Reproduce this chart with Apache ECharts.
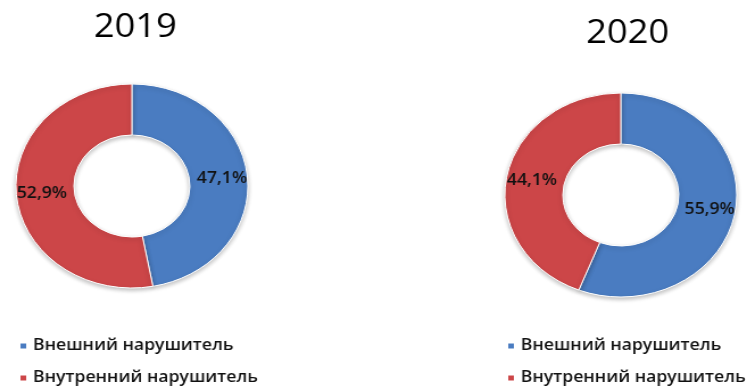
<!DOCTYPE html>
<html>
<head>
<meta charset="utf-8">
<script src="https://cdn.jsdelivr.net/npm/echarts@6/dist/echarts.min.js"></script>
<style>
  html, body { margin: 0; padding: 0; background: #fff; overflow: hidden; }
  #wrap { width: 748px; height: 390px; overflow: hidden; }
  /* donuts are drawn slightly wider than tall */
  #chart { width: 658px; height: 390px; transform: scaleX(1.137); transform-origin: 0 0; }
</style>
</head>
<body>
<div id="wrap"><div id="chart"></div></div>
<script>
const years = ['2019', '2020'];
const categories = ['Внешний нарушитель', 'Внутренний нарушитель'];
const values2019 = [47.1, 52.9];
const values2020 = [55.9, 44.1];
const colors = ['#4A7CC1', '#CC4648'];

const FONT = '"Open Sans", "DejaVu Sans", sans-serif';

function pieSeries(center, values) {
  return {
    type: 'pie',
    center: center,
    radius: [51, 102],
    startAngle: 90,
    clockwise: true,
    silent: true,
    avoidLabelOverlap: false,
    label: {
      show: true,
      position: 'inside',
      formatter: p => p.value.toFixed(1).replace('.', ',') + '%',
      color: '#111',
      fontFamily: FONT,
      fontSize: 15.5,
      fontWeight: 600
    },
    labelLine: { show: false },
    itemStyle: {
      borderColor: '#ffffff',
      borderWidth: 1,
      shadowBlur: 4,
      shadowOffsetY: 2,
      shadowColor: 'rgba(0,0,0,0.25)'
    },
    data: categories.map((c, i) => ({ name: c, value: values[i] }))
  };
}

// one legend row per category, stacked under each donut
function legendRow(left, top, name) {
  return {
    data: [name],
    left: left,
    top: top,
    icon: 'rect',
    itemWidth: 7,
    itemHeight: 7,
    selectedMode: false,
    padding: 0,
    textStyle: { fontFamily: FONT, fontSize: 15.5, fontWeight: 600, color: '#111', padding: [0, 0, 0, 0] }
  };
}

const rowTops = [338, 370];
const legendLefts = [16, 445];
const legends = [];
legendLefts.forEach(l => categories.forEach((c, i) => legends.push(legendRow(l, rowTops[i], c))));

const chart = echarts.init(document.getElementById('chart'), null, { renderer: 'canvas' });
chart.setOption({
  animation: false,
  color: colors,
  title: [
    { text: years[0], left: 114, top: 7, textAlign: 'center',
      textStyle: { fontFamily: FONT, fontSize: 32, fontWeight: 'normal', color: '#000' } },
    { text: years[1], left: 547, top: 13, textAlign: 'center',
      textStyle: { fontFamily: FONT, fontSize: 32, fontWeight: 'normal', color: '#000' } }
  ],
  legend: legends,
  series: [
    pieSeries([116, 186], values2019),
    pieSeries([546, 195], values2020)
  ]
});
</script>
</body>
</html>
